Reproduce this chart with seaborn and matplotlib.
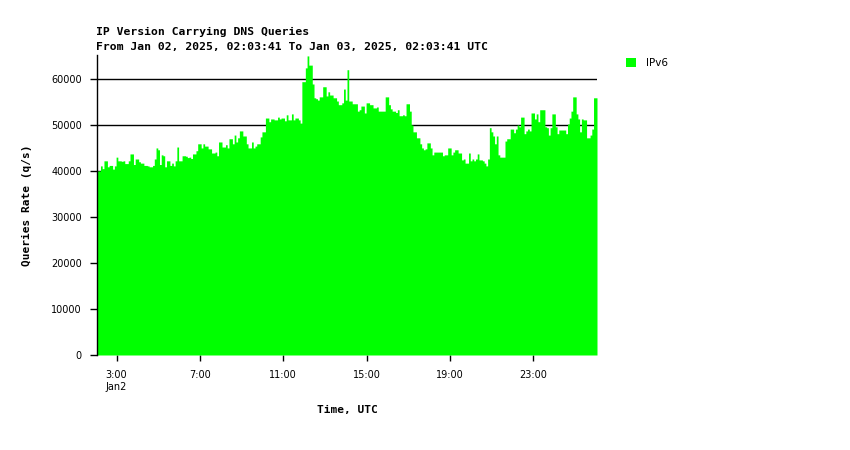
"""
IP version carrying DNS queries, one day of 5-minute bins.

Writes out.png (850x450).
"""

import matplotlib

matplotlib.use("Agg")

import matplotlib.pyplot as plt
import numpy as np
import pandas as pd
import seaborn as sns


# Jan 02, 2025 02:03:41 UTC, as hours since midnight Jan 02
START_HOUR = 2 + 3 / 60 + 41 / 3600
BIN_HOURS = 5 / 60
SERIES = "IPv6"

# queries per second, one value per 5-minute bin
QUERY_RATE = [
    40000, 40000, 41100, 40500, 42200, 42200, 40900, 41200, 41200, 40400,
    41100, 43000, 42200, 42200, 42100, 42200, 41600, 41600, 42200, 43700,
    43700, 41400, 42600, 42600, 42000, 41700, 41700, 41200, 41200, 41100,
    40900, 40900, 41200, 42600, 45000, 44600, 41400, 43500, 43300, 40900,
    42200, 42200, 41200, 41700, 41100, 42200, 45200, 42200, 42200, 43300,
    43300, 43200, 42900, 43000, 42700, 43700, 43700, 44400, 45900, 45900,
    45000, 45900, 45400, 45400, 44800, 44800, 43900, 43900, 44100, 43300,
    46300, 46300, 45200, 45200, 45700, 45000, 47000, 47000, 45900, 47800,
    46300, 47200, 48700, 48700, 47600, 47600, 45900, 45000, 45000, 46300,
    45000, 45400, 45900, 45900, 47400, 48500, 48500, 51500, 51500, 50700,
    51300, 51300, 51100, 51100, 51700, 51300, 51500, 51500, 50900, 52200,
    51100, 51100, 52400, 51100, 51500, 51500, 51100, 50400, 59400, 59400,
    62400, 65000, 63000, 63000, 58900, 55900, 55700, 55400, 56100, 56100,
    58300, 58300, 56300, 57200, 56500, 56500, 55900, 55900, 55200, 54400,
    54400, 54800, 57800, 55400, 62000, 55200, 55200, 54600, 54600, 54600,
    53000, 53300, 54100, 54100, 52600, 54800, 54800, 54400, 54400, 53700,
    53700, 53900, 53000, 53000, 53000, 53000, 56100, 56100, 54400, 53500,
    53000, 53000, 52700, 53300, 52000, 52000, 52200, 52000, 54600, 54600,
    53000, 50000, 48500, 48500, 47200, 47200, 45900, 45000, 44600, 44800,
    46100, 46100, 45000, 43500, 44100, 44100, 44100, 44100, 44100, 43300,
    43500, 43500, 45000, 45000, 43500, 44100, 44600, 44600, 43900, 43900,
    42400, 42600, 41700, 41700, 43900, 42200, 42600, 42200, 42600, 43700,
    42400, 42400, 42200, 41700, 41100, 42600, 49400, 48500, 47600, 45900,
    47600, 43500, 43000, 43000, 43000, 46500, 47000, 47000, 49100, 49100,
    48300, 49100, 50000, 49600, 51700, 51700, 48100, 48700, 49100, 48700,
    52600, 52600, 51300, 52400, 50700, 53300, 53300, 53300, 49600, 49400,
    47800, 49400, 52400, 52400, 49600, 48100, 48900, 48900, 48900, 48900,
    48100, 50200, 51500, 53000, 56100, 56100, 52400, 51300, 48500, 51300,
    51100, 51100, 47200, 47200, 47800, 49100, 55900, 55900,
]

TICK_HOURS = [3, 7, 11, 15, 19, 23]
TICK_LABELS = ["3:00\nJan2", "7:00", "11:00", "15:00", "19:00", "23:00"]
Y_TICKS = [0, 10000, 20000, 30000, 40000, 50000, 60000]
Y_MAX = 65200

BAR_COLOR = "#00ff00"
MONO = ["DejaVu Sans Mono"]


def setup_style() -> None:
    sns.set_theme(
        style="ticks",
        rc={
            "axes.spines.top": False,
            "axes.spines.right": False,
            "axes.spines.bottom": False,
            "axes.edgecolor": "black",
            "axes.linewidth": 1.0,
            "axes.labelcolor": "black",
            "text.color": "black",
            "xtick.color": "black",
            "ytick.color": "black",
            "xtick.labelcolor": "black",
            "ytick.labelcolor": "black",
        },
    )
    plt.rcParams["font.family"] = ["DejaVu Sans"]


def main() -> None:
    setup_style()

    n = len(QUERY_RATE)
    df = pd.DataFrame(
        {
            "hour": START_HOUR + (np.arange(n) + 0.5) * BIN_HOURS,
            "rate": QUERY_RATE,
        }
    )

    fig = plt.figure(figsize=(8.5, 4.5), dpi=100)
    ax = fig.add_axes([97 / 850, 95 / 450, 500 / 850, 300 / 450])
    ax.set_axisbelow(True)
    ax.yaxis.grid(True, color="black", linewidth=1.0)

    sns.histplot(
        data=df,
        x="hour",
        weights="rate",
        binwidth=BIN_HOURS,
        binrange=(START_HOUR, START_HOUR + n * BIN_HOURS),
        element="step",
        fill=True,
        color=BAR_COLOR,
        alpha=1.0,
        linewidth=0,
        label=SERIES,
        ax=ax,
    )

    ax.set_xlim(START_HOUR, START_HOUR + 24)
    ax.set_ylim(0, Y_MAX)
    ax.set_xticks(TICK_HOURS)
    ax.set_xticklabels(TICK_LABELS)
    ax.set_yticks(Y_TICKS)
    ax.set_yticklabels([str(v) for v in Y_TICKS])
    ax.tick_params(axis="x", direction="out", length=4, width=1, pad=7, labelsize=7)
    ax.tick_params(axis="y", direction="out", length=5, width=1, pad=6, labelsize=7)

    ax.set_xlabel("Time, UTC", family=MONO, fontweight="bold", fontsize=8)
    ax.xaxis.set_label_coords(0.5, -0.165)
    ax.set_ylabel("Queries Rate (q/s)", family=MONO, fontweight="bold", fontsize=8)
    ax.yaxis.set_label_coords(-0.13, 0.5)

    fig.text(96 / 850, 1 - 32 / 450, "IP Version Carrying DNS Queries",
             family=MONO, fontweight="bold", fontsize=8.2, va="center", ha="left")
    fig.text(96 / 850, 1 - 47 / 450,
             "From Jan 02, 2025, 02:03:41 To Jan 03, 2025, 02:03:41 UTC",
             family=MONO, fontweight="bold", fontsize=8.2, va="center", ha="left")

    ax.legend(
        loc="upper left",
        bbox_to_anchor=(626 / 850, 1 - 58 / 450),
        bbox_transform=fig.transFigure,
        frameon=False,
        handlelength=1.0,
        handleheight=1.0,
        handletextpad=0.9,
        borderpad=0,
        borderaxespad=0,
        fontsize=7.5,
    )

    fig.savefig("out.png", dpi=100)
    plt.close(fig)


if __name__ == "__main__":
    main()
